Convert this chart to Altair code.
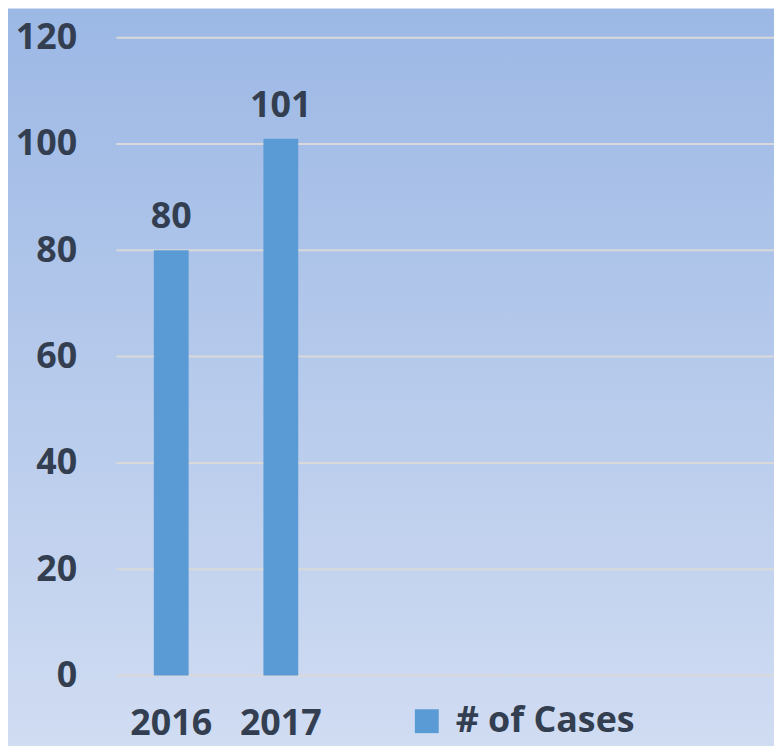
import altair as alt
import pandas as pd

years = ["2016", "2017"]
cases = [80, 101]
axis_slots = ["2016", "2017", "2018", "2019", "2020", "2021"]
series_name = "# of Cases"
y_ticks = [0, 20, 40, 60, 80, 100, 120]

df = pd.DataFrame({"year": years, "cases": cases, "series": [series_name] * len(years)})
grid_df = pd.DataFrame({"cases": y_ticks})

W, H = 661, 641
FONT = "Open Sans"
TXT = "#333f50"
BAR = "#5b9bd5"

xscale = alt.Scale(domain=axis_slots, paddingInner=0.684, paddingOuter=0.342)
yscale = alt.Scale(domain=[0, 120], nice=False)
yaxis = alt.Axis(title=None, values=y_ticks, ticks=False, domain=False, grid=False,
                 labelFont=FONT, labelFontSize=36, labelFontWeight="bold",
                 labelColor=TXT, labelPadding=40, zindex=1)

bg = alt.Chart(alt.Data(values=[{"a": 1}])).mark_rect(
    fill=alt.LinearGradient(
        gradient="linear",
        stops=[alt.GradientStop(color="#9cb8e5", offset=0),
               alt.GradientStop(color="#d0dcf2", offset=1)],
        x1=0, x2=0, y1=0, y2=1,
    )
).encode(
    x=alt.value(-120), x2=alt.value(W + 20),
    y=alt.value(-29), y2=alt.value(H + 72),
)

grid = alt.Chart(grid_df).mark_rule(color="#d9d9d9", strokeWidth=2).encode(
    y=alt.Y("cases:Q", scale=yscale, axis=yaxis),
    x=alt.value(0), x2=alt.value(W),
)

xenc = alt.X("year:N", scale=xscale,
             axis=alt.Axis(title=None, labelAngle=0, ticks=False, domain=False, grid=False,
                           labelExpr="datum.value == '2016' || datum.value == '2017' ? datum.value : ''",
                           labelFont=FONT, labelFontSize=36, labelFontWeight="bold",
                           labelBaseline="alphabetic",
                           labelColor=TXT, labelPadding=59, zindex=1))

bars = alt.Chart(df).mark_bar(size=35).encode(
    x=xenc,
    y=alt.Y("cases:Q", scale=yscale, axis=yaxis),
    color=alt.Color("series:N", scale=alt.Scale(domain=[series_name], range=[BAR]),
                    legend=alt.Legend(title=None, orient="none", legendX=294, legendY=669,
                                      symbolType="square", symbolSize=576, symbolStrokeWidth=0,
                                      symbolOpacity=1, labelLimit=400,
                                      labelFont=FONT, labelFontSize=36, labelFontWeight="bold",
                                      labelColor=TXT, labelOffset=11, padding=0)),
)

labels = alt.Chart(df).mark_text(dy=-22, baseline="alphabetic", font=FONT, fontSize=36,
                                 fontWeight="bold", color=TXT).encode(
    x=alt.X("year:N", scale=xscale),
    y=alt.Y("cases:Q", scale=yscale),
    text=alt.Text("cases:Q"),
)

chart = alt.layer(bg, grid, bars, labels).properties(
    width=W, height=H,
    autosize=alt.AutoSizeParams(type="none"),
    padding={"left": 109, "top": 28, "right": 0, "bottom": 69},
).configure_view(strokeWidth=0).configure(background="#d0dcf2")

chart.save("out.html", embed_options={"renderer": "svg", "actions": False})
